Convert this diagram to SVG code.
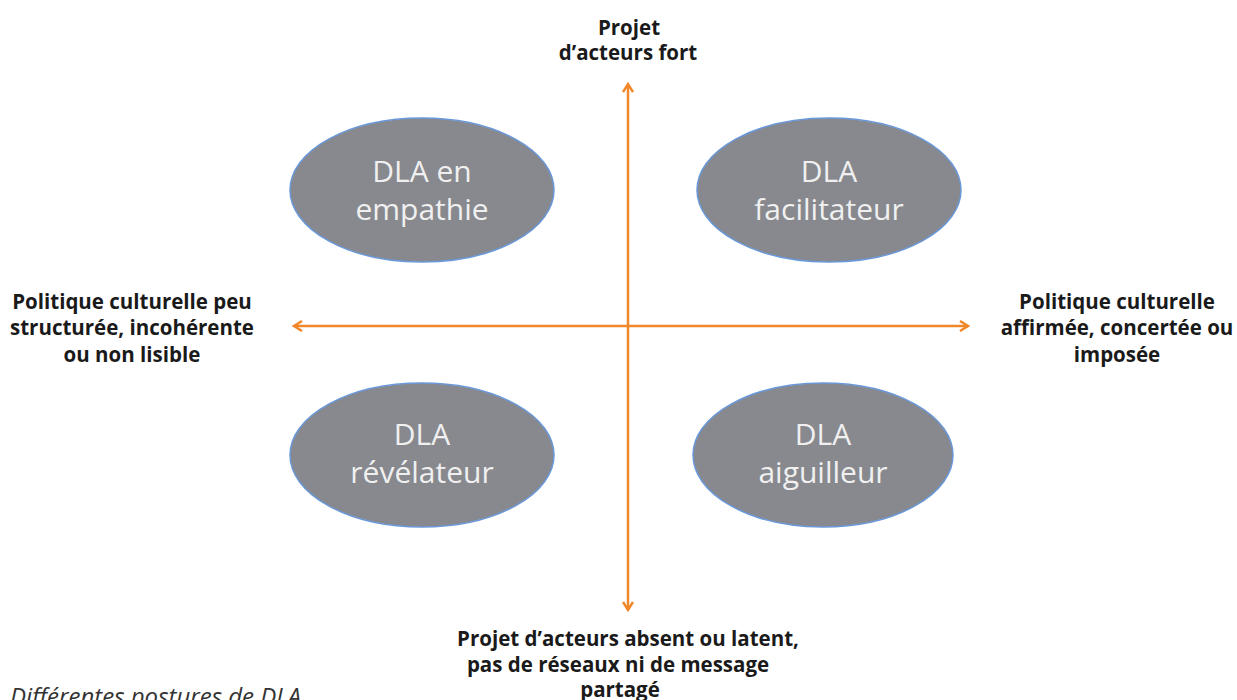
<svg xmlns="http://www.w3.org/2000/svg" width="1237" height="700" viewBox="0 0 1237 700">
<style>
.node ellipse{fill:#87898e;stroke:#6a98d8;stroke-width:1.5}
.nt{font-family:"Open Sans","Liberation Sans",sans-serif;font-size:30px;fill:#f0f0f0;text-anchor:middle}
.lb{font-family:"Open Sans","Liberation Sans",sans-serif;font-size:20.5px;font-weight:bold;fill:#1a1a1a;text-anchor:middle}
.ax{stroke:#f0882a;stroke-width:2.5;fill:none;marker-end:url(#ah)}
.cap{font-family:"Open Sans","Liberation Sans",sans-serif;font-size:24px;font-style:italic;fill:#333}
</style>
<defs>
<marker id="ah" markerWidth="12" markerHeight="12" refX="9" refY="6" orient="auto" markerUnits="userSpaceOnUse">
<path d="M1,1 L9,6 L1,11" fill="none" stroke="#f0882a" stroke-width="2.5"/>
</marker>
</defs>
<rect width="1237" height="700" fill="#fff"/>
<g id="connectors">
<line class="ax" x1="628" y1="326" x2="628" y2="84"/>
<line class="ax" x1="628" y1="326" x2="628" y2="610"/>
<line class="ax" x1="628" y1="326" x2="294" y2="326"/>
<line class="ax" x1="628" y1="326" x2="968" y2="326"/>
</g>
<g id="n-empathie" class="node">
<ellipse cx="422" cy="190" rx="132" ry="72"/>
<text class="nt" x="422" y="182">DLA en</text>
<text class="nt" x="422" y="220">empathie</text>
</g>
<g id="n-facilitateur" class="node">
<ellipse cx="829" cy="190" rx="132" ry="72"/>
<text class="nt" x="829" y="182">DLA</text>
<text class="nt" x="829" y="220">facilitateur</text>
</g>
<g id="n-revelateur" class="node">
<ellipse cx="422" cy="455" rx="132" ry="72"/>
<text class="nt" x="422" y="445">DLA</text>
<text class="nt" x="422" y="483">révélateur</text>
</g>
<g id="n-aiguilleur" class="node">
<ellipse cx="823" cy="455" rx="130" ry="72"/>
<text class="nt" x="823" y="445">DLA</text>
<text class="nt" x="823" y="483">aiguilleur</text>
</g>
<g id="labels">
<text class="lb" x="629" y="35">Projet</text>
<text class="lb" x="628" y="60">d’acteurs fort</text>
<text class="lb" x="132" y="309">Politique culturelle peu</text>
<text class="lb" x="132" y="335">structurée, incohérente</text>
<text class="lb" x="132" y="362">ou non lisible</text>
<text class="lb" x="1117" y="309">Politique culturelle</text>
<text class="lb" x="1117" y="335">affirmée, concertée ou</text>
<text class="lb" x="1117" y="362">imposée</text>
<text class="lb" x="628" y="646">Projet d’acteurs absent ou latent,</text>
<text class="lb" x="618" y="672">pas de réseaux ni de message</text>
<text class="lb" x="620" y="697">partagé</text>
<text class="cap" x="10" y="705">Différentes postures de DLA</text>
</g>
</svg>
